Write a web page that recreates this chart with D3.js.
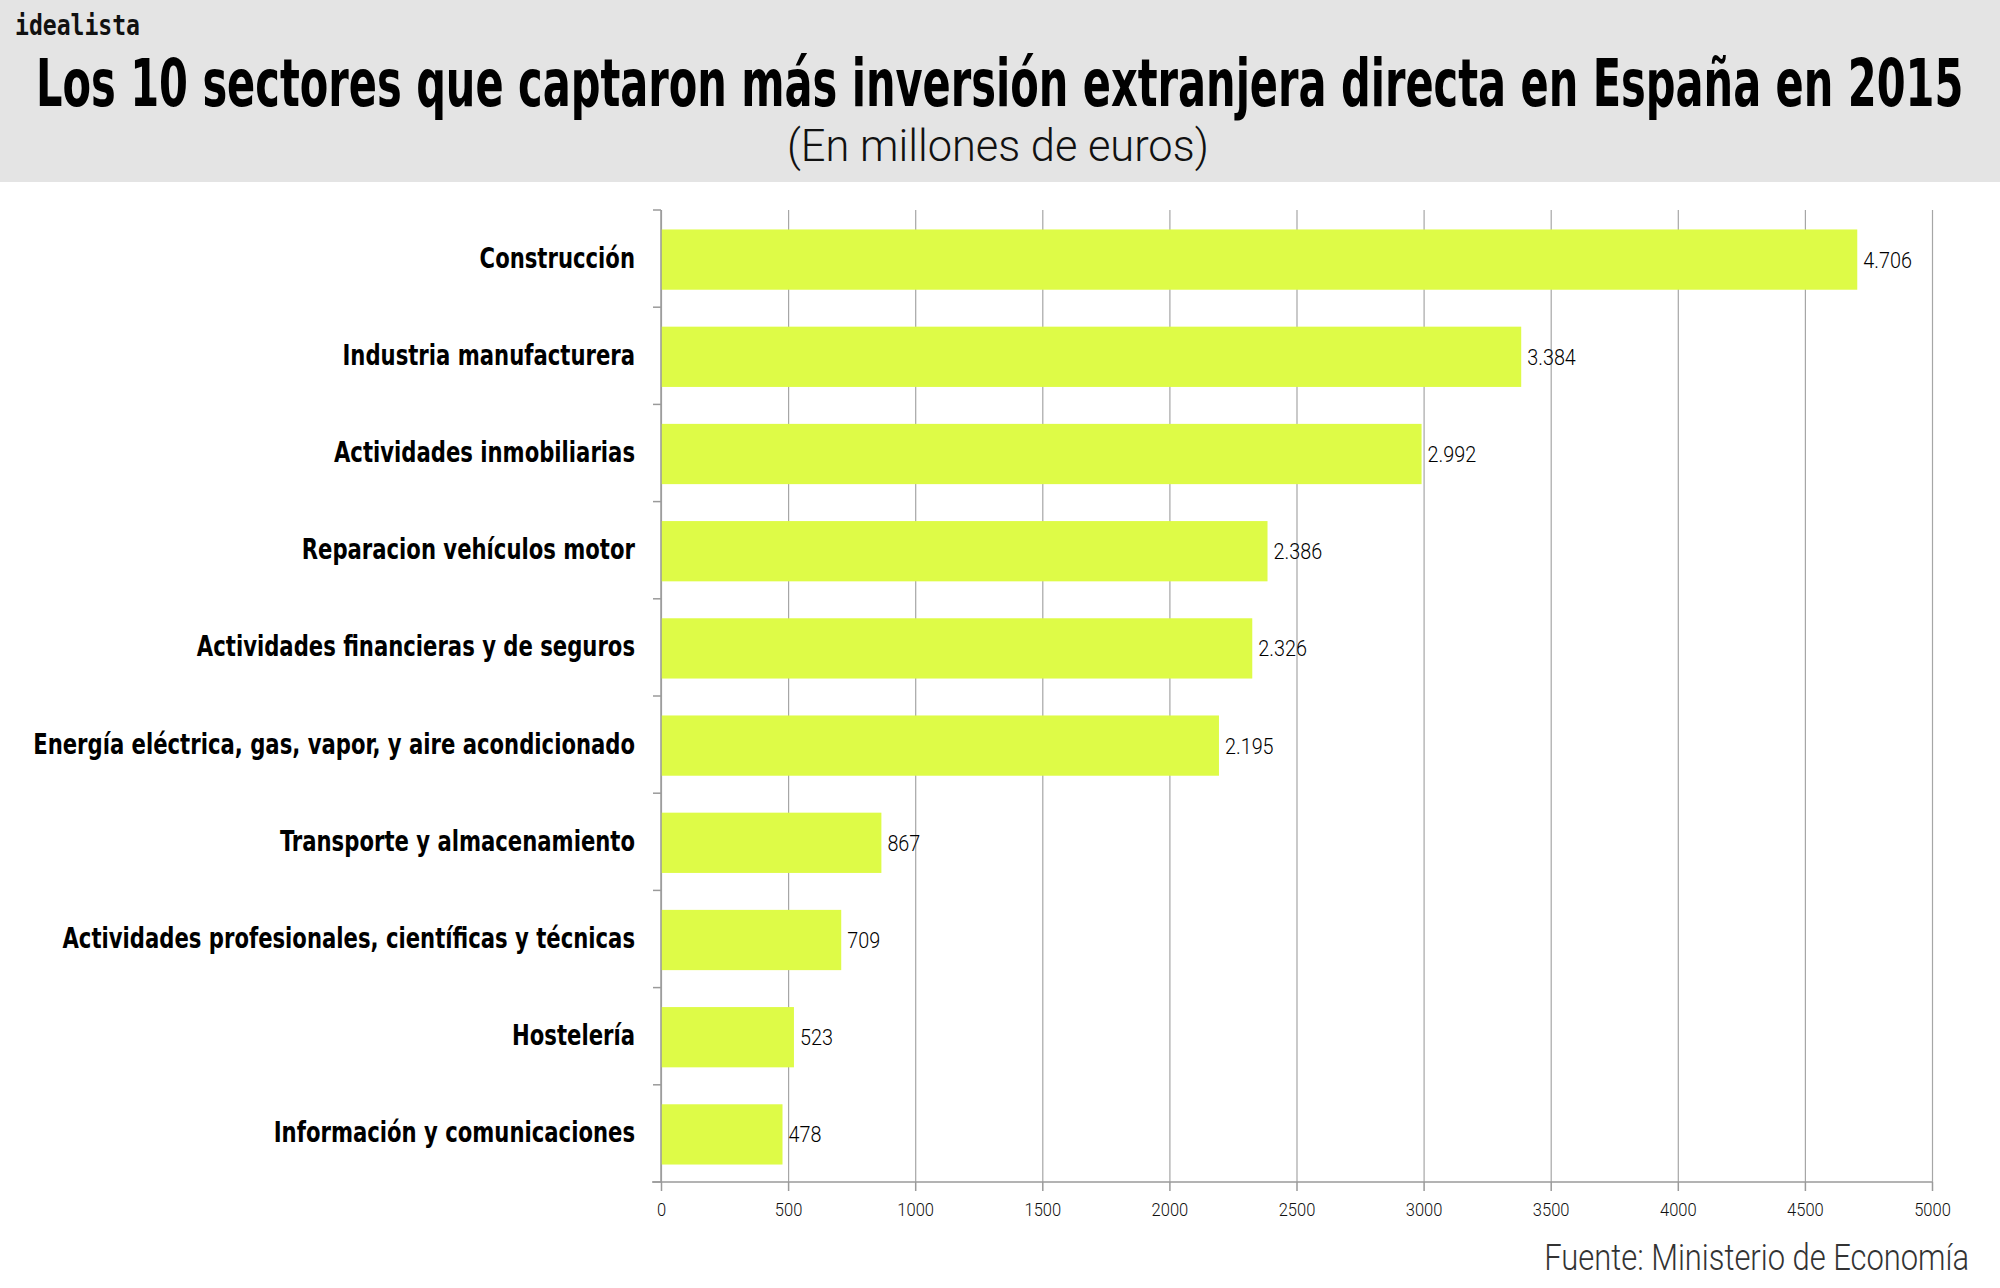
<!DOCTYPE html>
<html>
<head>
<meta charset="utf-8">
<script src="https://cdn.jsdelivr.net/npm/d3@7"></script>
<style>
  html, body { margin: 0; padding: 0; background: #ffffff; }
  svg { display: block; }
</style>
</head>
<body>
<svg id="chart" width="2000" height="1288"></svg>
<script>
// ---- DATA ----
const categories = [
  "Construcción",
  "Industria manufacturera",
  "Actividades inmobiliarias",
  "Reparacion vehículos motor",
  "Actividades financieras y de seguros",
  "Energía eléctrica, gas, vapor, y aire acondicionado",
  "Transporte y almacenamiento",
  "Actividades profesionales, científicas y técnicas",
  "Hostelería",
  "Información y comunicaciones"
];
const values = [4706, 3384, 2992, 2386, 2326, 2195, 867, 709, 523, 478];
const xTicks = [0, 500, 1000, 1500, 2000, 2500, 3000, 3500, 4000, 4500, 5000];
const brand = "idealista";
const title = "Los 10 sectores que captaron más inversión extranjera directa en España en 2015";
const subtitle = "(En millones de euros)";
const source = "Fuente: Ministerio de Economía";

// ---- LAYOUT ----
const W = 2000, H = 1288;
const margin = { left: 661, right: 68, top: 210, bottom: 106 };
const plotW = W - margin.left - margin.right;
const plotH = H - margin.top - margin.bottom;

const svg = d3.select("#chart");
const condBold = "'DejaVu Sans Condensed', 'Liberation Sans Narrow', 'DejaVu Sans', sans-serif";
const light = "Roboto, 'Open Sans', sans-serif";

const es = d3.formatLocale({ decimal: ",", thousands: ".", grouping: [3], currency: ["", " €"] });
const fmt = v => v >= 1000 ? es.format(",d")(v) : String(v);

// place a text horizontally squeezed with a transform so its drawn width is `target`
function squeezed(parent, x, y, anchor, target, styleFn, str) {
  const grp = parent.append("g");
  const t = grp.append("text").attr("x", 0).attr("y", 0).attr("text-anchor", anchor).text(str);
  styleFn(t);
  const w = t.node().getComputedTextLength();
  grp.attr("transform", `translate(${x},${y}) scale(${target / w},1)`);
  return grp;
}

// header band
svg.append("rect").attr("x", 0).attr("y", 0).attr("width", W).attr("height", 182).attr("fill", "#e4e4e4");

squeezed(svg, 15, 35, "start", 125, t => t
  .attr("font-family", "'DejaVu Sans Mono', monospace")
  .attr("font-weight", "bold")
  .attr("font-size", 29)
  .attr("fill", "#111"), brand);

squeezed(svg, 36, 106, "start", 1928, t => t
  .attr("font-family", condBold)
  .attr("font-weight", "bold")
  .attr("font-size", 65)
  .attr("fill", "#000"), title);

squeezed(svg, 787, 161, "start", 422, t => t
  .attr("font-family", light)
  .attr("font-weight", 300)
  .attr("font-size", 45)
  .attr("fill", "#111"), subtitle);

// scales
const x = d3.scaleLinear().domain([0, 5000]).range([0, plotW]);
const y = d3.scaleBand().domain(categories).range([0, plotH]).paddingInner(0.38).paddingOuter(0.19);

const g = svg.append("g").attr("transform", `translate(${margin.left},${margin.top})`);

// vertical gridlines
g.append("g")
  .call(d3.axisBottom(x).tickValues(xTicks).tickSize(plotH).tickFormat(""))
  .call(a => a.select(".domain").remove())
  .call(a => a.selectAll("line").attr("stroke", "#a6a6a6").attr("stroke-width", 1.2));

// bars
g.selectAll("rect.bar")
  .data(values)
  .join("rect")
  .attr("class", "bar")
  .attr("x", x(0))
  .attr("y", (d, i) => y(categories[i]) + 1)
  .attr("width", d => x(d) - x(0))
  .attr("height", y.bandwidth())
  .attr("fill", "#defb47");

// value labels (slightly condensed)
g.selectAll("text.val")
  .data(values)
  .join("text")
  .attr("class", "val")
  .attr("transform", (d, i) => `translate(${x(d) + 6},${y(categories[i]) + y.bandwidth() / 2 + 9}) scale(0.9,1)`)
  .attr("font-family", light)
  .attr("font-weight", 300)
  .attr("font-size", 22)
  .attr("fill", "#000")
  .text(d => fmt(d));

// y axis line and boundary ticks
const halfGap = y.step() * y.paddingInner() / 2;
const boundaries = [0].concat(categories.slice(1).map(c => y(c) - halfGap)).concat([plotH]);
g.append("line").attr("x1", 0).attr("x2", 0).attr("y1", 0).attr("y2", plotH)
  .attr("stroke", "#9a9a9a").attr("stroke-width", 1.5);
g.selectAll("line.ytick").data(boundaries).join("line")
  .attr("class", "ytick")
  .attr("x1", -8).attr("x2", 0).attr("y1", d => d).attr("y2", d => d)
  .attr("stroke", "#9a9a9a").attr("stroke-width", 1.5);

// category labels (uniformly condensed)
const labels = g.append("g").selectAll("text.cat")
  .data(categories)
  .join("text")
  .attr("class", "cat")
  .attr("text-anchor", "end")
  .attr("font-family", condBold)
  .attr("font-weight", "bold")
  .attr("font-size", 28)
  .attr("fill", "#000")
  .text(d => d);
let maxW = 0;
labels.each(function () { maxW = Math.max(maxW, this.getComputedTextLength()); });
const k = 602 / maxW;
labels.attr("transform", d => `translate(-26,${y(d) + y.bandwidth() / 2 + 9}) scale(${k},1)`);

// x axis
const xAxis = g.append("g")
  .attr("transform", `translate(0,${plotH})`)
  .call(d3.axisBottom(x).tickValues(xTicks).tickSize(9).tickPadding(12).tickFormat(d3.format("d")));
xAxis.select(".domain").remove();
xAxis.append("line").attr("x1", -9).attr("x2", plotW).attr("y1", 0).attr("y2", 0)
  .attr("stroke", "#9a9a9a").attr("stroke-width", 1.5);
xAxis.selectAll("line").attr("stroke", "#9a9a9a").attr("stroke-width", 1.5);
xAxis.selectAll("text")
  .attr("font-family", light)
  .attr("font-weight", 300)
  .attr("font-size", 19)
  .attr("fill", "#111")
  .attr("transform", "scale(0.87,1)");

// source
squeezed(svg, 1969, 1270, "end", 425, t => t
  .attr("font-family", light)
  .attr("font-weight", 300)
  .attr("font-size", 37)
  .attr("fill", "#333"), source);
</script>
</body>
</html>
